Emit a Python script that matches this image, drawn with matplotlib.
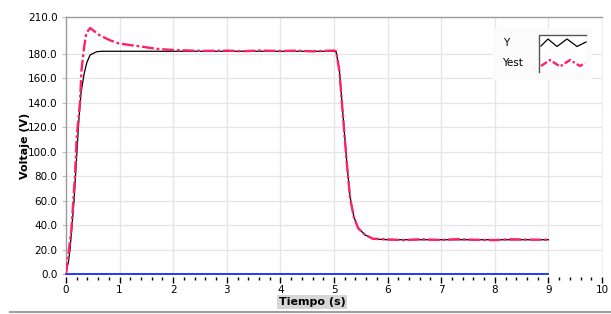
import matplotlib.pyplot as plt
from matplotlib.lines import Line2D
from matplotlib.patches import Rectangle
from matplotlib.ticker import MultipleLocator

# datos
t_y = [0, 0.005, 0.04, 0.075, 0.15, 0.2, 0.24, 0.28, 0.34, 0.39, 0.45, 0.57, 0.66,
       1.0, 2.0, 3.0, 4.0, 5.0, 5.04, 5.1, 5.14, 5.19, 5.24, 5.3, 5.37, 5.45, 5.58,
       5.73, 6.0, 7.0, 8.0, 9.0]
y_vals = [0, 7, 8, 20, 60, 97, 126, 148, 164, 173, 179, 181.6, 182,
          182, 182, 182, 182, 182, 181.5, 166.7, 145, 117.6, 90.5, 63, 46.8, 37.6, 32,
          28.6, 28, 28, 28, 28]

t_est = [0, 0.01, 0.05, 0.1, 0.17, 0.2, 0.26, 0.29, 0.34, 0.38,
         0.45, 0.51, 0.63, 0.82, 0.98, 1.2, 1.38, 1.69, 2.0, 2.3,
         2.6, 3.0, 3.3, 3.6, 4.0, 4.3, 4.6, 5.0, 5.04, 5.1,
         5.14, 5.19, 5.24, 5.3, 5.37, 5.45, 5.58, 5.73, 6.0, 6.3,
         6.6, 7.0, 7.3, 7.6, 8.0, 8.3, 8.6, 9.0]
est_vals = [0, 3, 18, 36, 82, 112, 140, 167, 186, 197,
            201, 199, 195, 191, 188.5, 187, 186, 184, 183, 182.6,
            182.3, 182.5, 182.0, 182.6, 182.2, 182.5, 181.9, 182.6, 182, 166,
            144, 117, 90, 62, 46.5, 37.5, 32, 28.8, 28.3, 27.7,
            28.4, 27.8, 28.5, 28.0, 27.7, 28.4, 28.1, 28.0]

t_u = [0, 9]
u_vals = [0, 0]

y_ticks = [0, 20, 40, 60, 80, 100, 120, 140, 160, 180, 210]
x_ticks = [0, 1, 2, 3, 4, 5, 6, 7, 8, 9, 10]

plt.rcParams['font.family'] = 'DejaVu Sans'

fig = plt.figure(figsize=(6.11, 3.14), dpi=100, facecolor='white')
W, H = 611, 314
ax = fig.add_axes([66 / W, 1 - 274 / H, (602 - 66) / W, (274 - 17) / H])
ax.set_facecolor('white')

# spines primero (set_position reinicia los ticks)
for s in ['left', 'top']:
    ax.spines[s].set_color('#9a9a9a')
    ax.spines[s].set_linewidth(1)
ax.spines['right'].set_color('#eeeeee')
ax.spines['bottom'].set_position(('outward', 2.5))
ax.spines['bottom'].set_visible(False)

ax.plot(t_u, u_vals, color='#1f3cff', lw=1.4, zorder=3, clip_on=False)
ax.plot(t_y, y_vals, color='black', lw=0.9, zorder=4)
ax.plot(t_est, est_vals, color='#ff2266', lw=1.7, zorder=5,
        dashes=(5, 1.2, 1.2, 1.2))

ax.set_xlim(0, 10)
ax.set_ylim(0, 210)
ax.set_xticks(x_ticks)
ax.set_xticklabels([str(v) for v in x_ticks], fontsize=7.5)
ax.xaxis.set_minor_locator(MultipleLocator(0.2))
ax.set_yticks(y_ticks)
ax.set_yticklabels(['%.1f' % v for v in y_ticks], fontsize=7.5)
ax.tick_params(axis='x', which='major', length=4, width=1, color='black', pad=1.5)
ax.tick_params(axis='x', which='minor', length=2.5, width=1, color='black')
ax.tick_params(axis='y', length=3, width=0.8, color='#bbbbbb', pad=3)

for v in y_ticks[1:-1]:
    ax.axhline(v, color='#e6e6e6', lw=1, zorder=1)
for v in x_ticks[1:-1]:
    ax.axvline(v, color='#e6e6e6', lw=1, zorder=1)

ax.set_ylabel('Voltaje (V)', fontsize=8, fontweight='bold')
ax.yaxis.set_label_coords(-0.067, 0.5)
fig.text(312 / W, 1 - 302 / H, 'Tiempo (s)', fontsize=8, fontweight='bold',
         ha='center', va='center',
         bbox=dict(boxstyle='square,pad=0.15', facecolor='#d6d6d6', edgecolor='none'))

# linea gris inferior
fig.add_artist(Line2D([10 / W, 1], [1 - 312 / H, 1 - 312 / H], color='#a0a0a0', lw=1.5))

# leyenda
lg = fig.add_axes([493 / W, 1 - 80 / H, (592 - 493) / W, (80 - 28) / H], zorder=10)
lg.set_xlim(493, 592)
lg.set_ylim(80, 28)
lg.axis('off')
lg.add_patch(Rectangle((493, 28), 99, 52, facecolor='#fbfbfb', edgecolor='none'))
lg.add_patch(Rectangle((539, 35), 47, 37, facecolor='white', edgecolor='none'))
lg.plot([539, 539, 586], [72, 35, 35], color='#555555', lw=1)
lg.text(503, 43, 'Y', fontsize=7.5, va='center')
lg.text(502, 63, 'Yest', fontsize=7.5, va='center')
lg.plot([541, 548, 557, 567, 577, 586], [46, 39, 46.5, 39, 46.5, 42],
        color='black', lw=0.9)
lg.plot([541, 550, 560, 570, 580, 585], [66, 60, 66.5, 60, 66, 63],
        color='#ff2266', lw=1.7, dashes=(3, 1, 1, 1))

fig.savefig('out.png', dpi=100, facecolor=fig.get_facecolor())
